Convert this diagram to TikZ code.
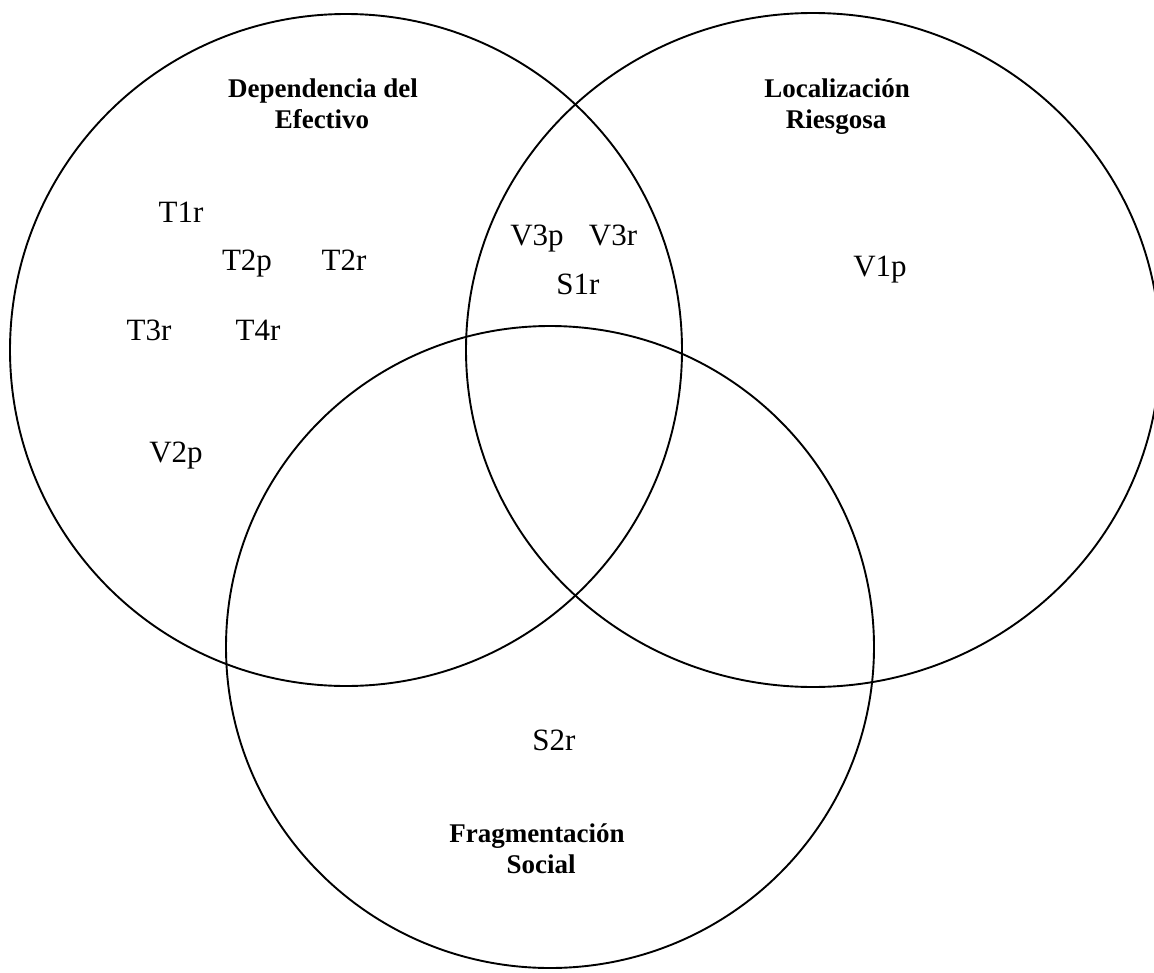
\documentclass[tikz,border=0pt]{standalone}
\usepackage{fontspec}
\setmainfont{Liberation Serif}
\begin{document}
\begin{tikzpicture}[x=1pt,y=-1pt,
  ring/.style={draw=black,line width=1.9pt},
  item/.style={anchor=base,inner sep=0pt,font=\fontsize{31}{36}\selectfont},
  ttl/.style={anchor=base,inner sep=0pt,font=\fontsize{27}{32}\selectfont\bfseries}]
\useasboundingbox (0,0) rectangle (1154,972);
\clip (0,0) rectangle (1154,972);
\fill[white] (0,0) rectangle (1154,972);
% circles
\draw[ring] (346,350) ellipse [x radius=336, y radius=336];
\draw[ring] (813,350) ellipse [x radius=347, y radius=337];
\draw[ring] (550,647) ellipse [x radius=324, y radius=321];
% titles
\node[ttl] (dep1) at (323,97) {Dependencia del};
\node[ttl] (dep2) at (322,128) {Efectivo};
\node[ttl] (loc1) at (837,97) {Localización};
\node[ttl] (loc2) at (836,128) {Riesgosa};
\node[ttl] (fra1) at (537,842) {Fragmentación};
\node[ttl] (fra2) at (541,873) {Social};
% items
\node[item] (t1r) at (181,222) {T1r};
\node[item] (t2p) at (247,270) {T2p};
\node[item] (t2r) at (344,270) {T2r};
\node[item] (t3r) at (149,340) {T3r};
\node[item] (t4r) at (258,340) {T4r};
\node[item] (v2p) at (176,462) {V2p};
\node[item] (v3p) at (537,245) {V3p};
\node[item] (v3r) at (613,245) {V3r};
\node[item] (s1r) at (578,294) {S1r};
\node[item] (v1p) at (880,276) {V1p};
\node[item] (s2r) at (554,750) {S2r};
\end{tikzpicture}
\end{document}
